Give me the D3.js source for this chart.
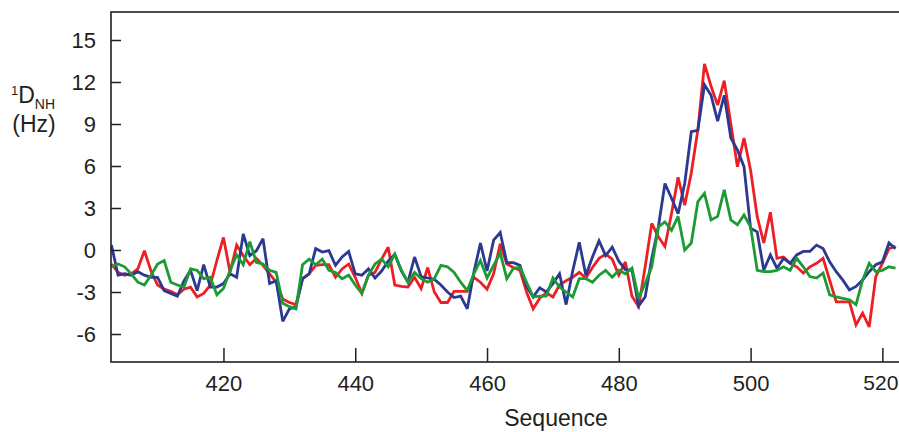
<!DOCTYPE html>
<html>
<head>
<meta charset="utf-8">
<script src="https://cdn.jsdelivr.net/npm/d3@7"></script>
<style>
  body { margin: 0; background: #fff; }
  svg { display: block; overflow: hidden; }
  text { font-family: "Liberation Sans", Arial, sans-serif; fill: #231f20; }
</style>
</head>
<body>
<script>
// Residues 403..522
var startResidue = 403;

var redValues = [
  -1.0, -1.6, -1.8, -1.7, -1.35, -0.05, -1.5, -2.5, -2.8, -2.95,
  -3.2, -2.8, -2.65, -3.35, -3.1, -2.5, -0.75, 0.9, -1.6, 0.35,
  -0.4, -1.05, -0.6, -1.1, -1.7, -2.3, -3.5, -3.75, -3.9, -2.05,
  -1.7, -1.1, -1.05, -1.05, -1.95, -1.35, -1.0, -1.95, -3.1, -1.8,
  -1.6, -0.65, 0.2, -2.5, -2.6, -2.65, -1.95, -2.75, -1.25, -3.0,
  -3.75, -3.75, -2.95, -2.95, -2.95, -1.95, -2.3, -2.8, -1.7, 0.45,
  -1.0, -1.25, -1.45, -3.0, -4.2, -3.45, -3.05, -3.35, -2.5, -2.2,
  -1.95, -1.6, -2.0, -1.25, -0.6, -0.3, -0.65, -1.8, -0.85, -3.3,
  -4.05, -1.2, 1.9, 0.95, 0.25, 2.6, 5.2, 3.2, 5.5, 8.6,
  13.3, 11.7, 10.35, 12.1, 9.0, 5.95, 8.0, 5.7, 2.4, 0.5,
  2.7, -0.6, -0.5, -0.95, -1.2, -1.65, -1.2, -0.95, -0.6, -2.15,
  -3.7, -3.7, -3.7, -5.35, -4.5, -5.5, -1.9, -0.95, 0.1, 0.25
];

var blueValues = [
  0.35, -1.8, -1.7, -1.8, -1.55, -1.8, -1.95, -1.95, -2.9, -3.1,
  -3.3, -2.2, -1.45, -2.9, -1.05, -2.65, -2.65, -2.4, -1.7, -1.95,
  1.15, -0.4, -0.05, 0.8, -2.4, -2.2, -5.1, -4.2, -4.05, -2.05,
  -1.7, 0.1, -0.15, -0.05, -1.1, -0.5, -0.1, -1.7, -1.8, -1.35,
  -2.0, -1.5, -0.8, -0.3, -1.5, -2.3, -0.5, -1.9, -2.0, -2.1,
  -2.5, -3.0, -3.4, -3.3, -4.2, -1.6, 0.5, -1.5, 0.7, 1.25,
  -0.9, -0.9, -1.1, -2.6, -3.35, -2.7, -3.0, -2.4, -1.7, -3.9,
  -1.5, 0.55, -1.8, -0.5, 0.65, -0.4, 0.2, -0.8, -1.4, -1.45,
  -4.0, -3.35, -0.6, 1.65, 4.75, 3.7, 2.6, 4.75, 8.45, 8.55,
  11.8, 11.05, 9.2, 11.05, 8.0, 7.15, 5.95, 1.55, 1.3, -1.45,
  -0.35, -1.3, -0.6, -0.95, -0.35, -0.1, -0.1, 0.35, 0.1, -0.85,
  -1.55, -2.15, -2.85, -2.6, -2.15, -1.55, -1.05, -0.85, 0.5, 0.1
];

var greenValues = [
  -1.2, -1.0, -1.2, -1.7, -2.3, -2.5, -1.8, -1.0, -0.75, -2.3,
  -2.5, -2.65, -1.35, -1.45, -2.05, -1.95, -3.2, -2.75, -1.45, -0.35,
  -1.05, 0.6, -0.9, -1.0, -1.45, -1.6, -3.8, -4.05, -4.2, -1.05,
  -0.65, -1.05, -0.65, -1.45, -1.6, -2.05, -1.8, -2.5, -3.1, -1.8,
  -1.0, -0.65, -1.2, -0.3, -1.45, -2.3, -1.6, -2.05, -2.3, -2.05,
  -1.1, -1.2, -1.6, -2.3, -2.9, -1.7, -0.75, -2.0, -1.1, -0.2,
  -2.05, -1.3, -1.25, -2.3, -3.35, -3.3, -3.3, -2.0, -2.65, -3.0,
  -3.35, -2.05, -2.05, -2.3, -1.8, -1.45, -1.95, -1.45, -1.7, -1.3,
  -3.45, -2.4, -1.2, 1.65, 2.0, 1.4, 2.4, 0.0, 0.5, 3.45,
  4.05, 2.15, 2.4, 4.3, 2.15, 1.8, 2.5, 1.65, -1.45, -1.55,
  -1.55, -1.45, -1.2, -1.45, -0.6, -1.2, -1.9, -2.0, -1.65, -3.2,
  -3.35, -3.45, -3.55, -3.9, -2.15, -0.95, -1.55, -1.45, -1.2, -1.3
];

var xTicks = [420, 440, 460, 480, 500, 520];
var yTicks = [-6, -3, 0, 3, 6, 9, 12, 15];

// Define SVG
var W = 899, H = 432;
var margin = {left: 111, top: 12};
var plotBottom = 362;

var svg = d3.select("body")
    .append("svg")
    .attr("width", W)
    .attr("height", H);

// Scales (right edge of the frame runs past the picture)
var x = d3.scaleLinear()
    .domain([402.93, 537.7])
    .range([margin.left, margin.left + 888]);

var y = d3.scaleLinear()
    .domain([-8, 17])
    .range([plotBottom, margin.top]);

// Build series
function toPoints(vals) {
    return vals.map(function(v, i) { return {r: startResidue + i, v: v}; });
}
var series = [
    {name: "red", color: "#ec2024", data: toPoints(redValues)},
    {name: "blue", color: "#2b3990", data: toPoints(blueValues)},
    {name: "green", color: "#1c9b34", data: toPoints(greenValues)}
];

var line = d3.line()
    .x(d => x(d.r))
    .y(d => y(d.v));

svg.append("defs").append("clipPath")
    .attr("id", "clip")
    .append("rect")
    .attr("x", margin.left)
    .attr("y", margin.top)
    .attr("width", 888)
    .attr("height", plotBottom - margin.top);

svg.append("g")
    .attr("clip-path", "url(#clip)")
    .selectAll("path")
    .data(series)
    .enter()
    .append("path")
    .attr("d", d => line(d.data))
    .attr("fill", "none")
    .attr("stroke", d => d.color)
    .attr("stroke-width", 2.8)
    .attr("stroke-linejoin", "miter")
    .attr("stroke-miterlimit", 3);

// Axes, ticks pointing inward; plain hyphen for negatives
var fmt = d => String(d);

var yAxis = svg.append("g")
    .attr("transform", `translate(${margin.left},0)`)
    .call(d3.axisLeft(y).tickValues(yTicks).tickFormat(fmt).tickSize(-10).tickPadding(15));

var xAxis = svg.append("g")
    .attr("transform", `translate(0,${plotBottom})`)
    .call(d3.axisBottom(x).tickValues(xTicks).tickFormat(fmt).tickSize(-14).tickPadding(13));

[yAxis, xAxis].forEach(function(g) {
    g.select(".domain").remove();
    g.selectAll(".tick line").attr("stroke", "#231f20").attr("stroke-width", 1.5);
    g.selectAll(".tick text")
        .style("font-family", "'Liberation Sans', Arial, sans-serif")
        .style("font-size", "22px")
        .attr("fill", "#231f20");
});
// last x label sits right at the picture edge; keep it inside
xAxis.selectAll(".tick text")
    .filter(d => d === 520)
    .style("font-size", "21px")
    .attr("dx", -2);

// Frame
svg.append("rect")
    .attr("x", margin.left)
    .attr("y", margin.top)
    .attr("width", 900)
    .attr("height", plotBottom - margin.top)
    .attr("fill", "none")
    .attr("stroke", "#231f20")
    .attr("stroke-width", 1.6);

// Axis titles
svg.append("text")
    .attr("x", 556)
    .attr("y", 426)
    .attr("text-anchor", "middle")
    .style("font-size", "23px")
    .text("Sequence");

var yTitle = svg.append("text")
    .attr("x", 11)
    .attr("y", 103)
    .style("font-size", "23px");
yTitle.append("tspan").attr("dy", -8).style("font-size", "13px").text("1");
yTitle.append("tspan").attr("dy", 8).text("D");
yTitle.append("tspan").attr("dy", 6).style("font-size", "14px").text("NH");

svg.append("text")
    .attr("x", 34)
    .attr("y", 132)
    .attr("text-anchor", "middle")
    .style("font-size", "23px")
    .text("(Hz)");
</script>
</body>
</html>
